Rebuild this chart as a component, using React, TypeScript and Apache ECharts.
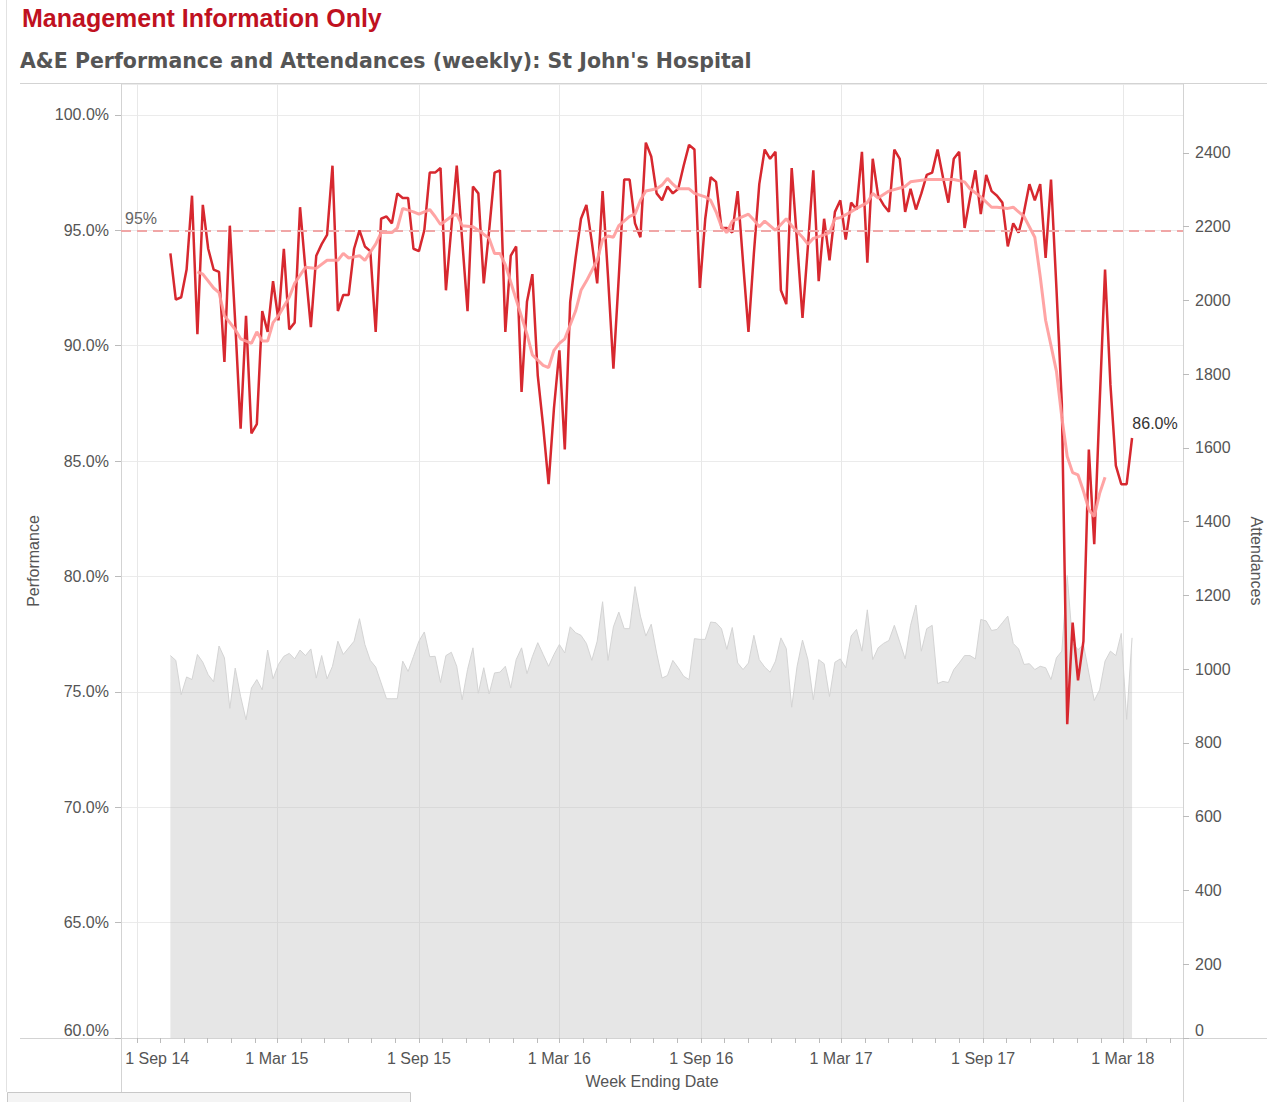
import React, { useEffect, useRef } from 'react';
import * as echarts from 'echarts';

// Week ending dates: weekly from 14 Oct 2014 (index 0) to 13 Mar 2018 (index 178)
const firstWeek = [2014, 9, 14];

const performance = [
  94.0, 92.0, 92.1, 93.3, 96.5, 90.5, 96.1, 94.2, 93.3, 93.2,
  89.3, 95.2, 91.0, 86.4, 91.3, 86.2, 86.6, 91.5, 90.6, 92.8,
  91.1, 94.2, 90.7, 91.0, 96.0, 93.3, 90.8, 93.9, 94.4, 94.8,
  97.8, 91.5, 92.2, 92.2, 94.2, 95.0, 94.3, 94.1, 90.6, 95.5,
  95.6, 95.3, 96.6, 96.4, 96.4, 94.2, 94.1, 95.0, 97.5, 97.5,
  97.7, 92.4, 95.1, 97.8, 94.6, 91.5, 96.9, 96.6, 92.7, 95.0,
  97.5, 97.6, 90.6, 93.9, 94.3, 88.0, 91.9, 93.1, 88.7, 86.5,
  84.0, 87.3, 89.8, 85.5, 91.9, 93.8, 95.5, 96.1, 94.5, 92.7,
  96.7, 93.0, 89.0, 93.0, 97.2, 97.2, 95.3, 94.7, 98.8, 98.2,
  96.6, 96.3, 96.9, 96.6, 96.8, 97.8, 98.7, 98.5, 92.5, 95.5,
  97.3, 97.1, 95.1, 95.1, 94.9, 96.7, 93.6, 90.6, 94.0, 97.0,
  98.5, 98.1, 98.4, 92.4, 91.8, 97.7, 94.5, 91.2, 94.3, 97.6,
  92.8, 95.5, 93.7, 95.8, 96.3, 94.6, 96.2, 95.9, 98.4, 93.6,
  98.1, 96.5, 96.1, 95.8, 98.5, 98.1, 95.8, 96.8, 95.9, 96.6,
  97.4, 97.5, 98.5, 97.3, 96.2, 98.1, 98.4, 95.1, 96.4, 97.6,
  95.7, 97.4, 96.7, 96.5, 96.2, 94.3, 95.3, 94.9, 95.8, 97.0,
  96.3, 97.0, 93.8, 97.2, 92.5, 87.5, 73.6, 78.0, 75.5, 77.2,
  85.5, 81.4, 87.5, 93.3, 88.3, 84.8, 84.0, 84.0, 86.0,
];

const attendances = [
  1037, 1024, 931, 979, 972, 1040, 1019, 985, 966, 1063,
  1031, 894, 1003, 926, 863, 949, 972, 944, 1052, 974,
  1013, 1035, 1043, 1028, 1052, 1037, 1055, 976, 1037, 974,
  1008, 1076, 1040, 1058, 1076, 1137, 1067, 1024, 1006, 963,
  920, 920, 920, 1022, 994, 1035, 1076, 1101, 1034, 1035,
  964, 1037, 1046, 1008, 917, 999, 1058, 935, 1004, 933,
  990, 992, 1008, 949, 1026, 1058, 988, 1034, 1072, 1040,
  1008, 1040, 1067, 1044, 1115, 1099, 1092, 1070, 1024, 1076,
  1183, 1024, 1115, 1155, 1110, 1110, 1224, 1144, 1090, 1122,
  1044, 976, 983, 1024, 1004, 981, 972, 1083, 1081, 1081,
  1128, 1126, 1110, 1054, 1113, 1017, 999, 1017, 1092, 1026,
  1006, 992, 1022, 1085, 1056, 897, 1008, 1079, 1026, 917,
  1026, 1015, 926, 1019, 1028, 1004, 1090, 1108, 1049, 1161,
  1026, 1058, 1070, 1078, 1119, 1074, 1028, 1119, 1174, 1049,
  1110, 1119, 961, 967, 964, 999, 1017, 1037, 1037, 1028,
  1135, 1131, 1105, 1108, 1126, 1144, 1070, 1055, 1013, 1015,
  999, 1008, 1004, 972, 1031, 1049, 1254, 1070, 1053, 1067,
  990, 915, 944, 1022, 1049, 1037, 1097, 864, 1085,
];

// Trend line (at these week indices)
const trendWeeks = [
  5, 6, 8, 9, 10, 12, 13, 15, 16, 17, 18, 19, 20, 22, 23, 25, 27, 29, 31, 32,
  33, 34, 35, 36, 38, 39, 41, 42, 43, 45, 46, 48, 49, 50, 52, 53, 54, 56, 57, 59,
  60, 61, 62, 64, 66, 67, 69, 70, 71, 72, 73, 75, 76, 77, 79, 80, 81, 82, 83, 85,
  86, 87, 88, 90, 91, 92, 93, 94, 96, 97, 99, 100, 101, 102, 103, 104, 105, 107, 108, 109,
  110, 112, 114, 115, 117, 118, 119, 121, 122, 123, 124, 126, 127, 129, 130, 131, 133, 136, 137, 140,
  142, 145, 147, 148, 150, 152, 153, 155, 156, 157, 158, 160, 161, 162, 164, 165, 166, 167, 168, 169,
  170, 171, 172, 173,
];
const trendValues = [
  93.2, 93.1, 92.5, 92.3, 91.3, 90.7, 90.3, 90.1, 90.6, 90.2, 90.2, 91.0, 91.3, 92.1, 92.7, 93.4, 93.35, 93.7, 93.7, 94.0,
  93.8, 93.85, 93.9, 93.7, 94.4, 94.9, 94.9, 95.1, 95.95, 95.8, 95.7, 95.9, 95.6, 95.25, 95.6, 95.7, 95.2, 95.15, 95.0, 94.65,
  94.0, 94.0, 93.5, 92.0, 90.5, 89.6, 89.15, 89.05, 89.8, 90.1, 90.3, 91.5, 92.4, 92.8, 93.7, 94.6, 94.75, 94.7, 95.2, 95.6,
  95.7, 96.3, 96.7, 96.8, 96.96, 97.25, 97.0, 96.8, 96.8, 96.6, 96.45, 96.3, 95.8, 95.15, 94.9, 95.4, 95.5, 95.7, 95.45, 95.15,
  95.4, 95.0, 95.5, 95.2, 94.7, 94.4, 94.65, 94.8, 94.9, 95.5, 95.55, 95.8, 95.95, 96.2, 96.6, 96.4, 96.7, 96.9, 97.1, 97.2,
  97.2, 97.2, 97.1, 96.8, 96.45, 96.0, 96.0, 95.95, 96.0, 95.8, 95.6, 94.7, 93.0, 91.1, 88.9, 86.9, 85.2, 84.5, 84.4, 83.7,
  82.9, 82.6, 83.6, 84.3,
];

const target = 95;

const xTickDates = ['2014-09-01', '2015-03-01', '2015-09-01', '2016-03-01', '2016-09-01', '2017-03-01', '2017-09-01', '2018-03-01'];
const xTickLabels = ['1 Sep 14', '1 Mar 15', '1 Sep 15', '1 Mar 16', '1 Sep 16', '1 Mar 17', '1 Sep 17', '1 Mar 18'];
const xAxisStart = '2014-08-11';
const xAxisEnd = '2018-05-18';

const parseDate = (s: string) => {
  const [y, m, d] = s.split('-').map(Number);
  return new Date(y, m - 1, d).getTime();
};
const weekDate = (i: number) => new Date(firstWeek[0], firstWeek[1], firstWeek[2] + 7 * i).getTime();

const FONT = "'Liberation Sans', Arial, sans-serif";

export default function App() {
  const ref = useRef<HTMLDivElement>(null);

  useEffect(() => {
    document.body.style.margin = '0';
    if (!ref.current) return;
    const chart = echarts.init(ref.current, undefined, { renderer: 'svg' });

    const xTickValues = xTickDates.map(parseDate);
    const monthValues: number[] = [];
    for (let k = 0; k < 45; k++) monthValues.push(new Date(2014, 8 + k, 1).getTime());

    const perfData = performance.map((v, i) => [weekDate(i), v]);
    const attData = attendances.map((v, i) => [weekDate(i), v]);
    const trendData = trendWeeks.map((w, k) => [weekDate(w), trendValues[k]]);
    const last = perfData[perfData.length - 1];

    const lineCol = '#d3d3d3';

    const option: any = {
      animation: false,
      backgroundColor: '#ffffff',
      textStyle: { fontFamily: FONT },
      title: [
        {
          text: 'Management Information Only',
          left: 22,
          top: 5,
          padding: 0,
          textStyle: { color: '#c0111f', fontSize: 25, fontWeight: 'bold', fontFamily: FONT },
        },
        {
          text: "A&E Performance and Attendances (weekly): St John's Hospital",
          left: 20,
          top: 50,
          padding: 0,
          textStyle: { color: '#555555', fontSize: 20.5, fontWeight: 'bold', fontFamily: "'DejaVu Sans', sans-serif" },
        },
      ],
      grid: { left: 121, right: 84, top: 84, bottom: 64, containLabel: false, outerBoundsMode: 'none' },
      graphic: [
        { type: 'line', shape: { x1: 20, y1: 83.5, x2: 1267, y2: 83.5 }, style: { stroke: lineCol, lineWidth: 1 }, silent: true },
        { type: 'line', shape: { x1: 20, y1: 1038.5, x2: 1267, y2: 1038.5 }, style: { stroke: lineCol, lineWidth: 1 }, silent: true },
        { type: 'line', shape: { x1: 121.5, y1: 83, x2: 121.5, y2: 1102 }, style: { stroke: lineCol, lineWidth: 1 }, silent: true },
        { type: 'line', shape: { x1: 1183.5, y1: 83, x2: 1183.5, y2: 1102 }, style: { stroke: lineCol, lineWidth: 1 }, silent: true },
        { type: 'line', shape: { x1: 6.5, y1: 0, x2: 6.5, y2: 1092 }, style: { stroke: '#e2e2e2', lineWidth: 1 }, silent: true },
        { type: 'rect', shape: { x: 7.5, y: 1092.5, width: 403, height: 12 }, style: { fill: '#f4f4f4', stroke: '#c8c8c8', lineWidth: 1 }, silent: true },
      ],
      xAxis: [
        {
          type: 'value',
          min: parseDate(xAxisStart),
          max: parseDate(xAxisEnd),
          axisLine: { show: true, lineStyle: { color: lineCol } },
          axisTick: { show: true, customValues: xTickValues, length: 5, lineStyle: { color: '#bbbbbb' } },
          axisLabel: {
            customValues: xTickValues,
            color: '#555555',
            fontSize: 16,
            margin: 12,
            hideOverlap: false,
            formatter: (val: number) => {
              let best = 0;
              xTickValues.forEach((t, k) => {
                if (Math.abs(t - val) < Math.abs(xTickValues[best] - val)) best = k;
              });
              return best === 0 ? '{first|' + xTickLabels[best] + '}' : xTickLabels[best];
            },
            rich: {
              first: { padding: [0, 0, 0, 40], fontSize: 16, color: '#555555' },
            },
          },
          splitLine: { show: true, lineStyle: { color: '#e8e8e8', width: 1 } },
          name: 'Week Ending Date',
          nameLocation: 'middle',
          nameGap: 35,
          nameTextStyle: { color: '#555555', fontSize: 16 },
        },
        {
          type: 'value',
          min: parseDate(xAxisStart),
          max: parseDate(xAxisEnd),
          position: 'bottom',
          axisLine: { show: false },
          axisTick: { show: true, customValues: monthValues, length: 5, lineStyle: { color: '#bbbbbb' } },
          axisLabel: { show: false, customValues: monthValues },
          splitLine: { show: false },
        },
      ],
      yAxis: [
        {
          type: 'value',
          position: 'left',
          min: 60,
          max: 101.34,
          interval: 5,
          axisLine: { show: true, lineStyle: { color: lineCol } },
          axisTick: { show: true, length: 6, lineStyle: { color: '#bbbbbb' } },
          axisLabel: {
            color: '#555555',
            fontSize: 16,
            margin: 12,
            showMaxLabel: false,
            verticalAlignMinLabel: 'bottom',
            formatter: (v: number) => v.toFixed(1) + '%',
          },
          splitLine: { show: true, lineStyle: { color: '#ebebeb', width: 1 } },
          name: 'Performance',
          nameLocation: 'middle',
          nameGap: 80,
          nameRotate: 90,
          nameTextStyle: { color: '#555555', fontSize: 16 },
        },
        {
          type: 'value',
          position: 'right',
          min: 0,
          max: 2587,
          interval: 200,
          axisLine: { show: true, lineStyle: { color: lineCol } },
          axisTick: { show: true, length: 6, lineStyle: { color: '#bbbbbb' } },
          axisLabel: {
            color: '#555555',
            fontSize: 16,
            margin: 12,
            showMaxLabel: false,
            verticalAlignMinLabel: 'bottom',
            formatter: (v: number) => String(Math.round(v)),
          },
          splitLine: { show: false },
          name: 'Attendances',
          nameLocation: 'middle',
          nameGap: 65,
          nameRotate: -90,
          nameTextStyle: { color: '#555555', fontSize: 16 },
        },
      ],
      series: [
        {
          name: 'Attendances',
          type: 'line',
          yAxisIndex: 1,
          data: attData,
          showSymbol: false,
          lineStyle: { color: '#d4d4d4', width: 1 },
          areaStyle: { color: '#bcbcbc', opacity: 0.38 },
          z: 1,
          silent: true,
        },
        {
          name: 'Performance',
          type: 'line',
          yAxisIndex: 0,
          data: perfData,
          showSymbol: false,
          lineStyle: { color: '#d7282f', width: 2.5 },
          z: 3,
          markLine: {
            silent: true,
            symbol: ['none', 'none'],
            lineStyle: { color: '#f0a6a6', width: 2, type: [10, 6] },
            label: { show: true, position: 'insideStartTop', formatter: '95%', color: '#666666', fontSize: 16, distance: [4, 4] },
            data: [{ yAxis: target }],
          },
          markPoint: {
            symbol: 'circle',
            symbolSize: 2,
            itemStyle: { color: 'rgba(0,0,0,0)' },
            label: {
              show: true,
              position: 'top',
              distance: 6,
              offset: [23, 0],
              color: '#333333',
              fontSize: 16,
              formatter: (p: any) => Number(p.value).toFixed(1) + '%',
            },
            data: [{ coord: last, value: last[1] }],
          },
        },
        {
          name: 'Trend',
          type: 'line',
          yAxisIndex: 0,
          data: trendData,
          showSymbol: false,
          lineStyle: { color: '#ff9a9a', width: 3, opacity: 0.9 },
          z: 4,
        },
      ],
    };

    chart.setOption(option);
    return () => chart.dispose();
  }, []);

  return <div ref={ref} style={{ width: 1267, height: 1102 }} />;
}
